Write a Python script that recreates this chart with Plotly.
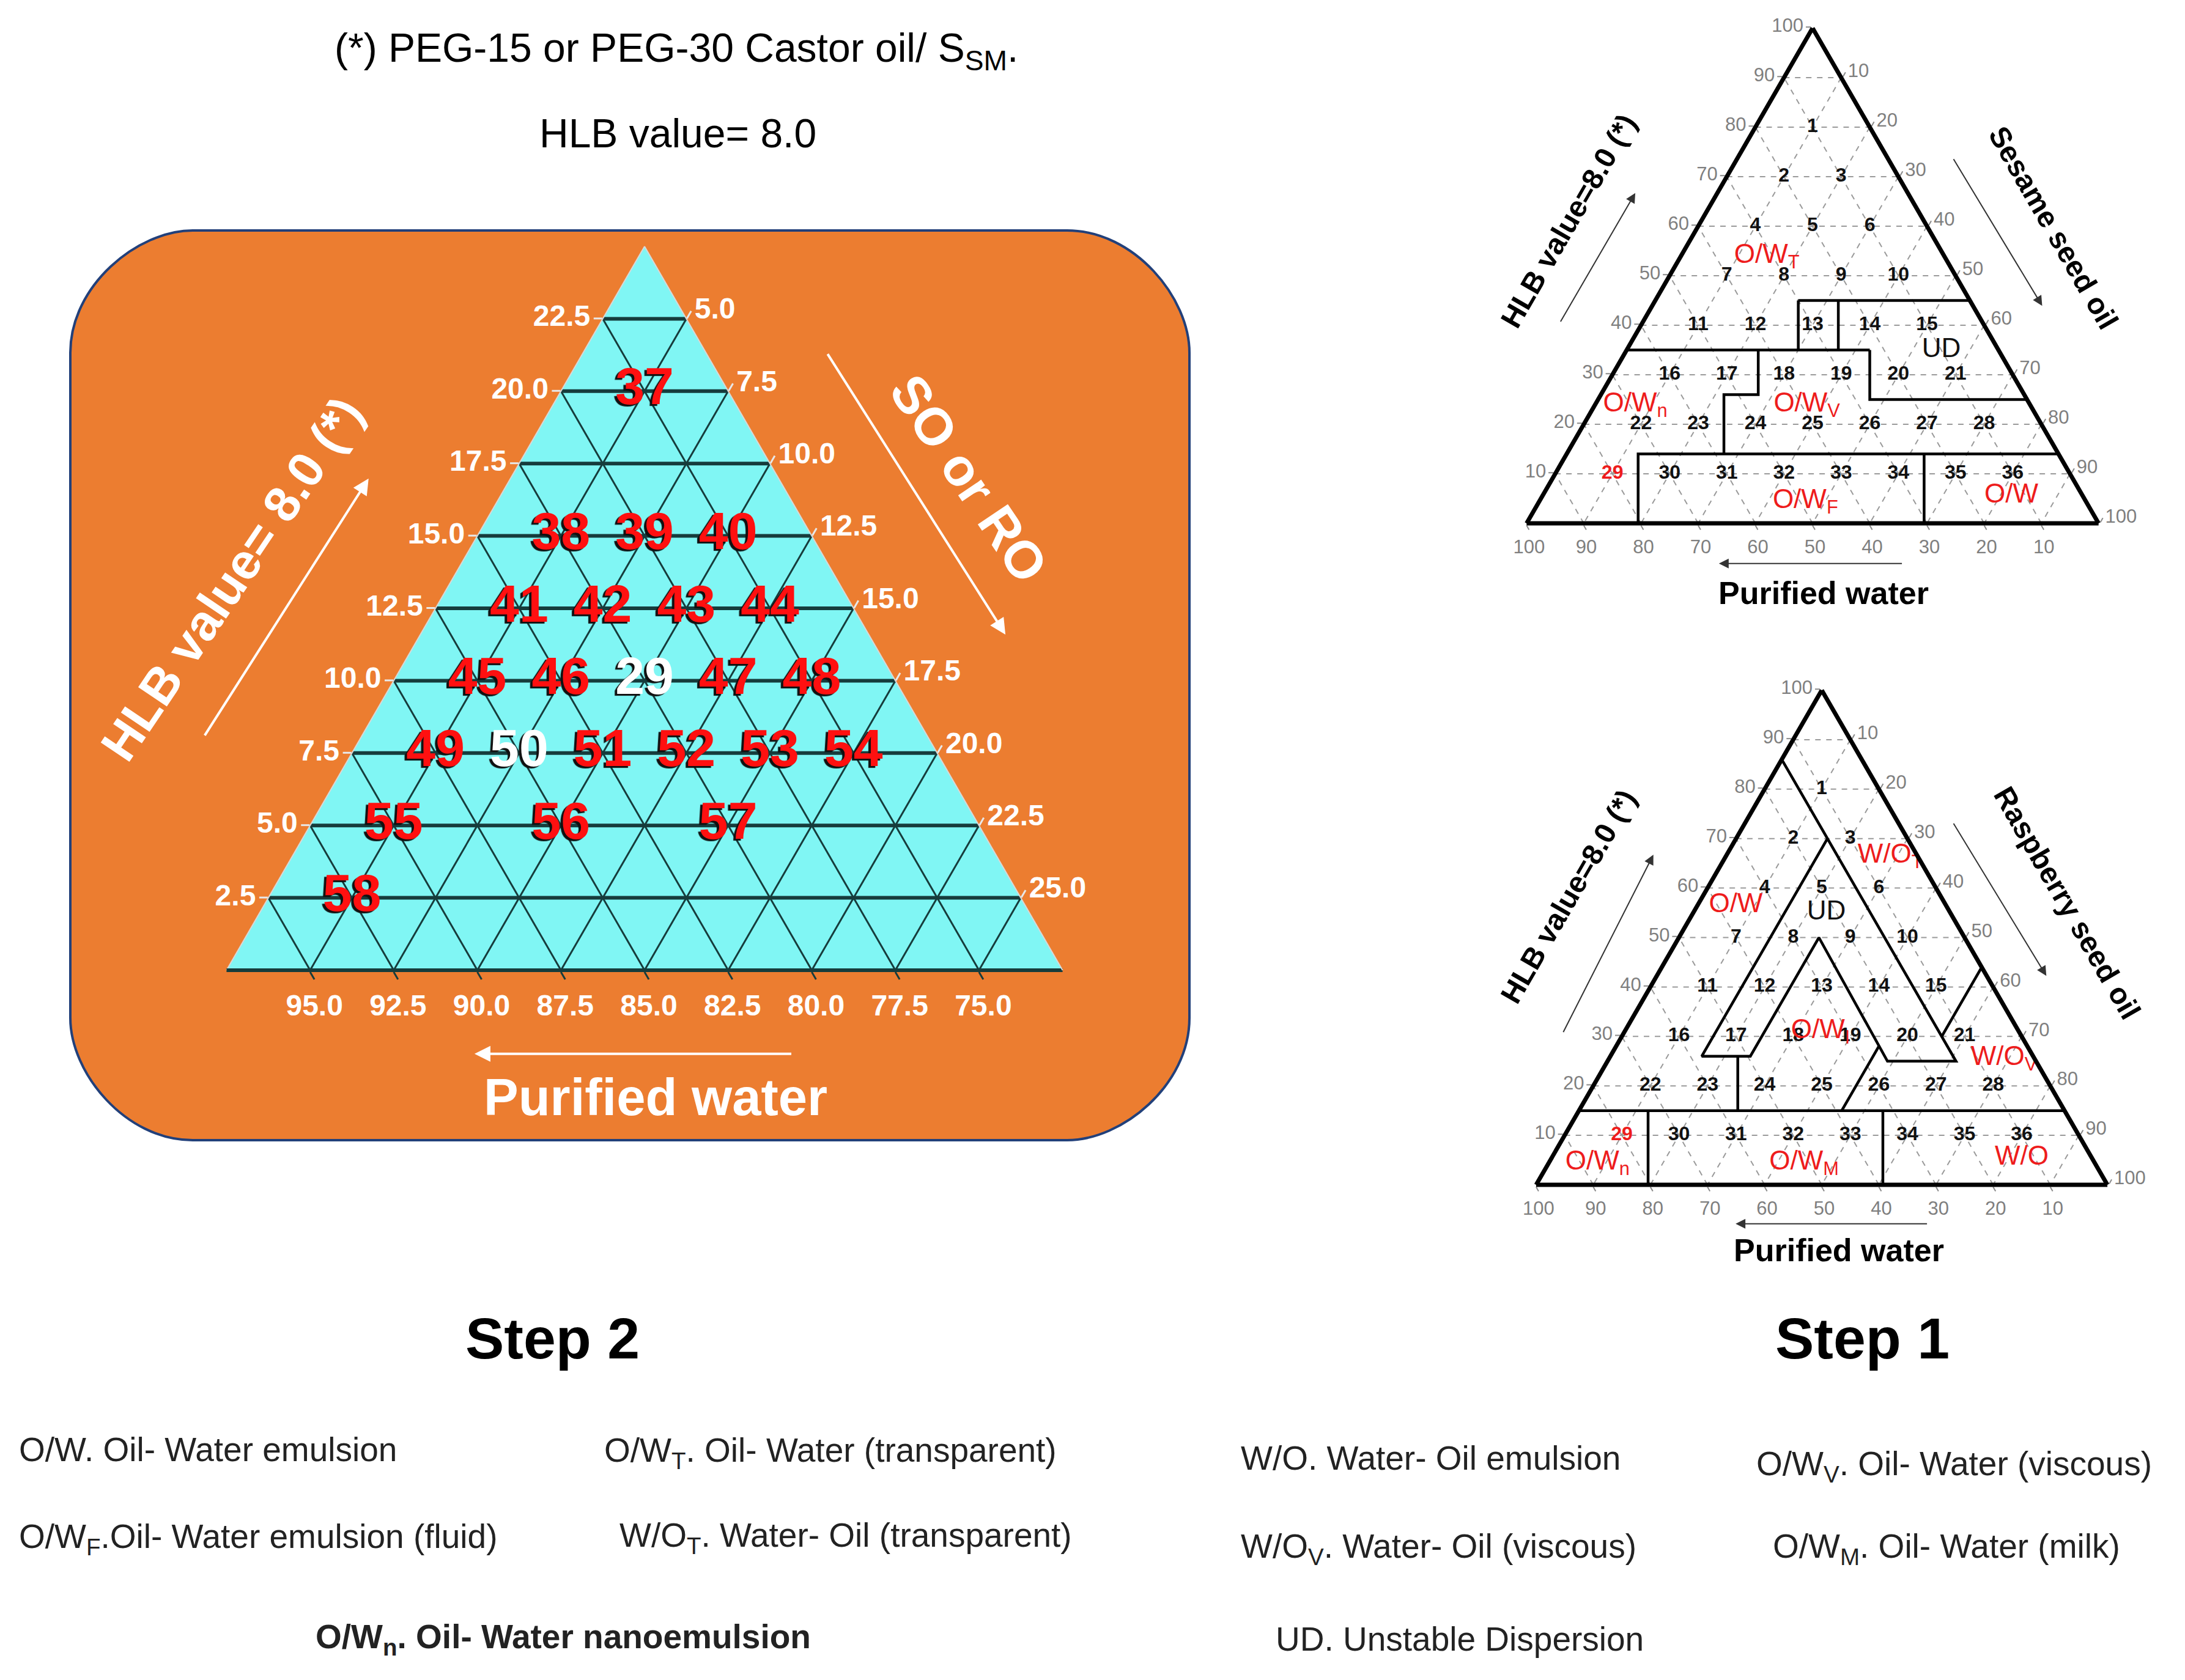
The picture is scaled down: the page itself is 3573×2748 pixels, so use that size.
import plotly.graph_objects as go

W, H = 3573, 2748
S = W / 1568.0          # reference thumbnail px -> full px
FONT = "Liberation Sans, Arial, sans-serif"
RED = "#EE1C1C"


def X(x):
    return x * S / W


def Y(y):
    return 1 - y * S / H


# ---------------- Step 2 (large diagram) ----------------
big_labels = ["37",
              "38", "39", "40",
              "41", "42", "43", "44",
              "45", "46", "29", "47", "48",
              "49", "50", "51", "52", "53", "54",
              "55", "56", "57",
              "58"]
big_a = [20,
         15, 15, 15,
         12.5, 12.5, 12.5, 12.5,
         10, 10, 10, 10, 10,
         7.5, 7.5, 7.5, 7.5, 7.5, 7.5,
         5, 5, 5,
         2.5]
big_c = [2.5,
         2.5, 5, 7.5,
         2.5, 5, 7.5, 10,
         2.5, 5, 7.5, 10, 12.5,
         2.5, 5, 7.5, 10, 12.5, 15,
         2.5, 7.5, 12.5,
         2.5]
big_b = [77.5,
         82.5, 80, 77.5,
         85, 82.5, 80, 77.5,
         87.5, 85, 82.5, 80, 77.5,
         90, 87.5, 85, 82.5, 80, 77.5,
         92.5, 87.5, 82.5,
         95]
big_white = ["29", "50"]

big_a_ticks = [2.5, 5, 7.5, 10, 12.5, 15, 17.5, 20, 22.5]
big_a_text = ["2.5", "5.0", "7.5", "10.0", "12.5", "15.0", "17.5", "20.0", "22.5"]
big_b_ticks = [97.5, 95, 92.5, 90, 87.5, 85, 82.5, 80, 77.5]
big_b_text = ["95.0", "92.5", "90.0", "87.5", "85.0", "82.5", "80.0", "77.5", "75.0"]
big_c_ticks = [2.5, 5, 7.5, 10, 12.5, 15, 17.5, 20, 22.5]
big_c_text = ["5.0", "7.5", "10.0", "12.5", "15.0", "17.5", "20.0", "22.5", "25.0"]

# ---------------- Step 1 (small diagrams) ----------------
small_ticks = [10, 20, 30, 40, 50, 60, 70, 80, 90, 100]
num_labels = [str(i) for i in range(1, 37)]
num_a = [80,
         70, 70,
         60, 60, 60,
         50, 50, 50, 50,
         40, 40, 40, 40, 40,
         30, 30, 30, 30, 30, 30,
         20, 20, 20, 20, 20, 20, 20,
         10, 10, 10, 10, 10, 10, 10, 10]
num_c = [10,
         10, 20,
         10, 20, 30,
         10, 20, 30, 40,
         10, 20, 30, 40, 50,
         10, 20, 30, 40, 50, 60,
         10, 20, 30, 40, 50, 60, 70,
         10, 20, 30, 40, 50, 60, 70, 80]
num_b = [10,
         20, 10,
         30, 20, 10,
         40, 30, 20, 10,
         50, 40, 30, 20, 10,
         60, 50, 40, 30, 20, 10,
         70, 60, 50, 40, 30, 20, 10,
         80, 70, 60, 50, 40, 30, 20, 10]

# region boundaries (a, b, c) - Sesame seed oil
sesame_lines = [
    [(45, 30, 25), (45, 0, 55)],
    [(45, 30, 25), (35, 35, 30)],
    [(45, 23, 32), (35, 28, 37)],
    [(35, 65, 0), (35, 22.5, 42.5)],
    [(35, 22.5, 42.5), (25, 27.5, 47.5), (25, 0, 75)],
    [(35, 42, 23), (26, 46.5, 27.5), (26, 52.5, 21.5), (14, 58.5, 27.5)],
    [(0, 80.5, 19.5), (14, 73.5, 12.5), (14, 0, 86)],
    [(14, 23.5, 62.5), (0, 30.5, 69.5)],
]
sesame_reg_text = ["O/W<sub>T</sub>", "UD", "O/W<sub>n</sub>", "O/W<sub>V</sub>", "O/W<sub>F</sub>", "O/W"]
sesame_reg_a = [54, 35, 24, 24, 4.5, 5.5]
sesame_reg_b = [31, 10, 69, 39, 49, 12.5]
sesame_reg_c = [15, 55, 7, 37, 46.5, 82]

# region boundaries (a, b, c) - Raspberry seed oil
rasp_lines = [
    [(86, 14, 0), (25, 14, 61), (25, 26, 49), (50, 25.5, 24.5), (26, 49.5, 24.5), (26, 58, 16), (70, 14, 16)],
    [(44, 0, 56), (30, 14, 56)],
    [(28, 26, 46), (15, 39, 46)],
    [(26, 51.7, 22.3), (15, 57.2, 27.8)],
    [(15, 85, 0), (15, 0, 85)],
    [(15, 72.9, 12.1), (0, 80.4, 19.6)],
    [(15, 31.8, 53.2), (0, 39.3, 60.7)],
]
rasp_reg_text = ["O/W", "UD", "W/O<sub>T</sub>", "O/W<sub>I</sub>", "W/O<sub>V</sub>",
                 "O/W<sub>n</sub>", "O/W<sub>M</sub>", "W/O"]
rasp_reg_a = [56.5, 55, 66.5, 31, 25.6, 4.5, 4.5, 5.4]
rasp_reg_b = [36.8, 21.7, 4.75, 34.7, 5.3, 87, 50.85, 12.3]
rasp_reg_c = [6.7, 23.3, 28.75, 34.3, 69.1, 8.5, 44.65, 82.3]

legend_items = [
    ("O/W. Oil- Water emulsion", 9, 1037, False),
    ("O/W<sub>T</sub>. Oil- Water (transparent)", 429, 1039, False),
    ("W/O. Water- Oil emulsion", 886, 1043, False),
    ("O/W<sub>V</sub>. Oil- Water (viscous)", 1256, 1049, False),
    ("O/W<sub>F</sub>.Oil- Water emulsion (fluid)", 9, 1101, False),
    ("W/O<sub>T</sub>. Water- Oil (transparent)", 440, 1100, False),
    ("W/O<sub>V</sub>. Water- Oil (viscous)", 886, 1108, False),
    ("O/W<sub>M</sub>. Oil- Water (milk)", 1268, 1108, False),
    ("O/W<sub>n</sub>. Oil- Water nanoemulsion", 222, 1173, True),
    ("UD. Unstable Dispersion", 911, 1173, False),
]

fig = go.Figure()

# big diagram numbers
red_idx = [i for i, t in enumerate(big_labels) if t not in big_white]
wht_idx = [i for i, t in enumerate(big_labels) if t in big_white]
for idx, col in ((red_idx, "#FF1010"), (wht_idx, "#FFFFFF")):
    fig.add_trace(go.Scatterternary(
        subplot="ternary", mode="text",
        a=[big_a[i] for i in idx], b=[big_b[i] for i in idx], c=[big_c[i] for i in idx],
        text=[big_labels[i] for i in idx],
        textfont=dict(family=FONT, size=86, color=col, weight="bold",
                      shadow="-4px 3px 1px #111"),
        hoverinfo="skip", showlegend=False))

# small diagrams
for sub, lines, rt, ra, rb, rc in (
        ("ternary2", sesame_lines, sesame_reg_text, sesame_reg_a, sesame_reg_b, sesame_reg_c),
        ("ternary3", rasp_lines, rasp_reg_text, rasp_reg_a, rasp_reg_b, rasp_reg_c)):
    for ln in lines:
        fig.add_trace(go.Scatterternary(
            subplot=sub, mode="lines",
            a=[p[0] for p in ln], b=[p[1] for p in ln], c=[p[2] for p in ln],
            line=dict(color="black", width=4.5), hoverinfo="skip", showlegend=False))
    fig.add_trace(go.Scatterternary(
        subplot=sub, mode="text", a=num_a, b=num_b, c=num_c, text=num_labels,
        textfont=dict(family=FONT, size=32, weight="bold",
                      color=[RED if t == "29" else "#111111" for t in num_labels]),
        hoverinfo="skip", showlegend=False))
    fig.add_trace(go.Scatterternary(
        subplot=sub, mode="text", a=ra, b=rb, c=rc, text=rt,
        textfont=dict(family=FONT, size=44,
                      color=["#111111" if t == "UD" else RED for t in rt]),
        hoverinfo="skip", showlegend=False))


def big_axis(tv, tt, linecolor, linewidth, gw, tickcolor):
    return dict(title=dict(text=""), tickmode="array", tickvals=tv, ticktext=tt,
                ticks="outside", ticklen=14, tickwidth=3, tickcolor=tickcolor,
                tickfont=dict(family=FONT, size=48, color="white", weight="bold"),
                showgrid=True, gridcolor="#163c3c", gridwidth=gw,
                showline=True, linecolor=linecolor, linewidth=linewidth)


def small_axis():
    return dict(title=dict(text=""), tickmode="array", tickvals=small_ticks,
                ticktext=[str(v) for v in small_ticks],
                ticks="outside", ticklen=8, tickwidth=2, tickcolor="#8a8a8a",
                tickfont=dict(family=FONT, size=31, color="#7f7f7f"),
                showgrid=True, gridcolor="#9a9a9a", gridwidth=2, griddash="dash",
                showline=True, linecolor="black", linewidth=7)


big_top, big_bot, big_cx = 395, 1579, 1046
big_w = (big_bot - big_top) * 2 / 3 ** 0.5
s1_top, s1_bot, s1_cx = 38, 848, 2956
s2_top, s2_bot, s2_cx = 1121, 1930, 2971
s1_w = (s1_bot - s1_top) * 2 / 3 ** 0.5
s2_w = (s2_bot - s2_top) * 2 / 3 ** 0.5

ba = big_axis(big_a_ticks, big_a_text, "#d8d8d8", 2, 6, "#e8e8e8")
ba["min"] = 0
bb = big_axis(big_b_ticks, big_b_text, "#163c3c", 6, 3, "#163c3c")
bb["min"] = 75
bc = big_axis(big_c_ticks, big_c_text, "#d8d8d8", 2, 3, "#e8e8e8")
bc["min"] = 0

fig.update_layout(
    width=W, height=H, margin=dict(l=0, r=0, t=0, b=0),
    paper_bgcolor="white", plot_bgcolor="white", showlegend=False,
    ternary=dict(domain=dict(x=[(big_cx - big_w / 2) / W, (big_cx + big_w / 2) / W],
                             y=[1 - big_bot / H, 1 - big_top / H]),
                 sum=100, bgcolor="#80F6F4", aaxis=ba, baxis=bb, caxis=bc),
    ternary2=dict(domain=dict(x=[(s1_cx - s1_w / 2) / W, (s1_cx + s1_w / 2) / W],
                              y=[1 - s1_bot / H, 1 - s1_top / H]),
                  sum=100, bgcolor="rgba(0,0,0,0)",
                  aaxis=small_axis(), baxis=small_axis(), caxis=small_axis()),
    ternary3=dict(domain=dict(x=[(s2_cx - s2_w / 2) / W, (s2_cx + s2_w / 2) / W],
                              y=[1 - s2_bot / H, 1 - s2_top / H]),
                  sum=100, bgcolor="rgba(0,0,0,0)",
                  aaxis=small_axis(), baxis=small_axis(), caxis=small_axis()),
)

# orange rounded panel
x0, x1 = 107 / W, 1937 / W
y0, y1 = 1 - 1857 / H, 1 - 369 / H
rx, ry = 200 / W, 200 / H
k = 0.45
path = (f"M {x0 + rx},{y1} L {x1 - rx},{y1} "
        f"C {x1 - rx * k},{y1} {x1},{y1 - ry * (1 - k)} {x1},{y1 - ry} "
        f"L {x1},{y0 + ry} "
        f"C {x1},{y0 + ry * k} {x1 - rx * (1 - k)},{y0} {x1 - rx},{y0} "
        f"L {x0 + rx},{y0} "
        f"C {x0 + rx * k},{y0} {x0},{y0 + ry * (1 - k)} {x0},{y0 + ry} "
        f"L {x0},{y1 - ry} "
        f"C {x0},{y1 - ry * k} {x0 + rx * (1 - k)},{y1} {x0 + rx},{y1} Z")
fig.add_shape(type="path", path=path, xref="paper", yref="paper", layer="below",
              fillcolor="#EC7D30", line=dict(color="#22407A", width=4))

ann = []


def text(t, x, y, size, color="black", bold=False, angle=0, family=FONT, xanchor="center"):
    ann.append(dict(text=t, x=X(x), y=Y(y), xref="paper", yref="paper", showarrow=False,
                    textangle=angle, xanchor=xanchor, yanchor="middle",
                    font=dict(family=family, size=size, color=color,
                              weight="bold" if bold else "normal")))


def arrow(tx, ty, hx, hy, color, width, size):
    ann.append(dict(text="", x=X(hx), y=Y(hy), xref="paper", yref="paper",
                    ax=(tx - hx) * S, ay=(ty - hy) * S, showarrow=True,
                    arrowhead=2, arrowsize=size, arrowwidth=width, arrowcolor=color))


# header
text("(*) PEG-15 or PEG-30 Castor oil/ S<sub>SM</sub>.", 482, 33, 66)
text("HLB value= 8.0", 483, 92, 66)

# big diagram titles
text("HLB value= 8.0 (*)", 163, 412, 82, "white", True, -56)
arrow(143, 525, 261, 340, "white", 4, 1.3)
text("SO or RO", 692, 340, 86, "white", True, 56)
arrow(590, 250, 718, 452, "white", 4, 1.3)
text("Purified water", 467, 784, 85, "white", True)
arrow(565, 753, 337, 753, "white", 4, 1.3)

# small top
text("HLB value=8.0 (*)", 1122, 155, 48, "black", True, -60)
arrow(1116, 228, 1170, 135, "#333333", 2, 1.6)
text("Sesame seed oil", 1470, 160, 48, "black", True, 60)
arrow(1398, 110, 1462, 216, "#333333", 2, 1.6)
text("Purified water", 1305, 422, 52, "black", True)
arrow(1362, 401, 1230, 401, "#333333", 2, 1.6)

# small bottom
text("HLB value=8.0 (*)", 1122, 640, 48, "black", True, -60)
arrow(1118, 738, 1183, 610, "#333333", 2, 1.6)
text("Raspberry seed oil", 1480, 645, 48, "black", True, 60)
arrow(1398, 587, 1465, 697, "#333333", 2, 1.6)
text("Purified water", 1316, 894, 52, "black", True)
arrow(1380, 875, 1242, 875, "#333333", 2, 1.6)

# step titles
text("Step 2", 393, 957, 95, "black", True)
text("Step 1", 1333, 957, 95, "black", True)

# legend
for t, lx, ly, bold in legend_items:
    text(t, lx, ly, 55, "#222222", bold, 0, FONT, "left")

fig.update_layout(annotations=ann)
fig.write_html("out.html")
